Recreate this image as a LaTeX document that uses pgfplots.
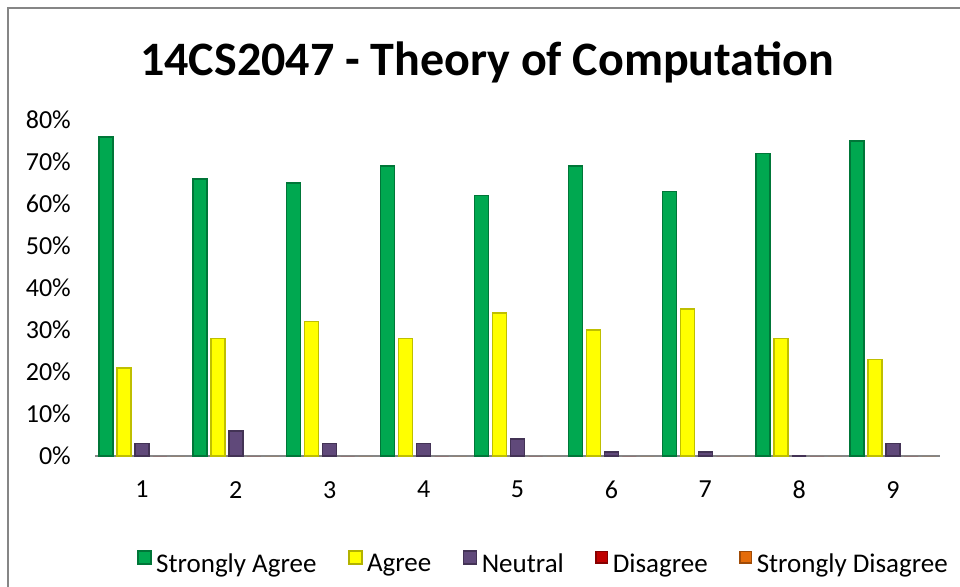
\documentclass[border=0pt]{standalone}
\usepackage{fontspec}
\setmainfont{Carlito}
\usepackage{pgfplots}
\pgfplotsset{compat=1.18}
\definecolor{sagree}{RGB}{0,168,80}
\definecolor{agree}{RGB}{255,255,0}
\definecolor{neutral}{RGB}{96,73,122}
\definecolor{disagree}{RGB}{192,0,0}
\definecolor{sdisagree}{RGB}{228,108,10}
\definecolor{framegray}{RGB}{134,134,134}

% little bevelled square for the legend
\pgfplotsset{bevel key/.style={legend image code/.code={
  \fill[#1!70!black] (0pt,0pt) rectangle (13pt,13pt);
  \fill[#1] (1.5pt,1.5pt) rectangle (11.5pt,11.5pt);}}}

\begin{document}
\begin{tikzpicture}[x=1pt,y=1pt]
\path[use as bounding box] (0,0) rectangle (960,586);
\draw[framegray, line width=2pt] (8,-5) -- (8,578) -- (965,578);
\node[anchor=base, font=\fontsize{48}{48}\selectfont\bfseries] at (487,510) {14CS2047 - Theory of Computation};
\begin{axis}[
  at={(95pt,130pt)}, anchor=south west,
  scale only axis, width=845pt, height=336pt,
  ybar=4pt, bar width=14pt,
  xmin=0.5, xmax=9.5, ymin=0, ymax=80,
  xtick={1,2,3,4,5,6,7,8,9},
  xticklabels={1,2,3,4,5,6,7,8,9},
  ytick={0,10,20,30,40,50,60,70,80},
  yticklabels={0\%,10\%,20\%,30\%,40\%,50\%,60\%,70\%,80\%},
  axis x line*=bottom, axis y line*=left,
  x axis line style={framegray, line width=2.5pt, -},
  y axis line style={draw=none},
  major tick length=0pt,
  tick label style={font=\fontsize{26}{26}\selectfont, inner sep=0pt},
  xticklabel style={anchor=north, yshift=-25pt},
  yticklabel style={anchor=east, xshift=-24pt},
  legend style={at={(0.0497,-0.3155)}, anchor=west, draw=none, fill=none,
    inner sep=0pt, legend columns=-1, font=\fontsize{27}{27}\selectfont,
    nodes={inner sep=0pt},
    /tikz/every odd column/.append style={column sep=4.5pt},
    /tikz/every even column/.append style={column sep=31.5pt}},
]
\addplot[fill=sagree, draw=sagree!70!black, line width=1.5pt, bevel key=sagree]
  coordinates {(1,76)(2,66)(3,65)(4,69)(5,62)(6,69)(7,63)(8,72)(9,75)};
\addplot[fill=agree, draw=agree!75!black, line width=1.5pt, bevel key=agree]
  coordinates {(1,21)(2,28)(3,32)(4,28)(5,34)(6,30)(7,35)(8,28)(9,23)};
\addplot[fill=neutral, draw=neutral!70!black, line width=1.5pt, bevel key=neutral]
  coordinates {(1,3)(2,6)(3,3)(4,3)(5,4)(6,1)(7,1)(8,0)(9,3)};
\addplot[fill=disagree, draw=none, bevel key=disagree]
  coordinates {(1,0)(2,0)(3,0)(4,0)(5,0)(6,0)(7,0)(8,0)(9,0)};
\addplot[fill=sdisagree, draw=none, bevel key=sdisagree]
  coordinates {(1,0)(2,0)(3,0)(4,0)(5,0)(6,0)(7,0)(8,0)(9,0)};
\legend{Strongly Agree, Agree, Neutral, Disagree, Strongly Disagree}
\end{axis}
\end{tikzpicture}
\end{document}
